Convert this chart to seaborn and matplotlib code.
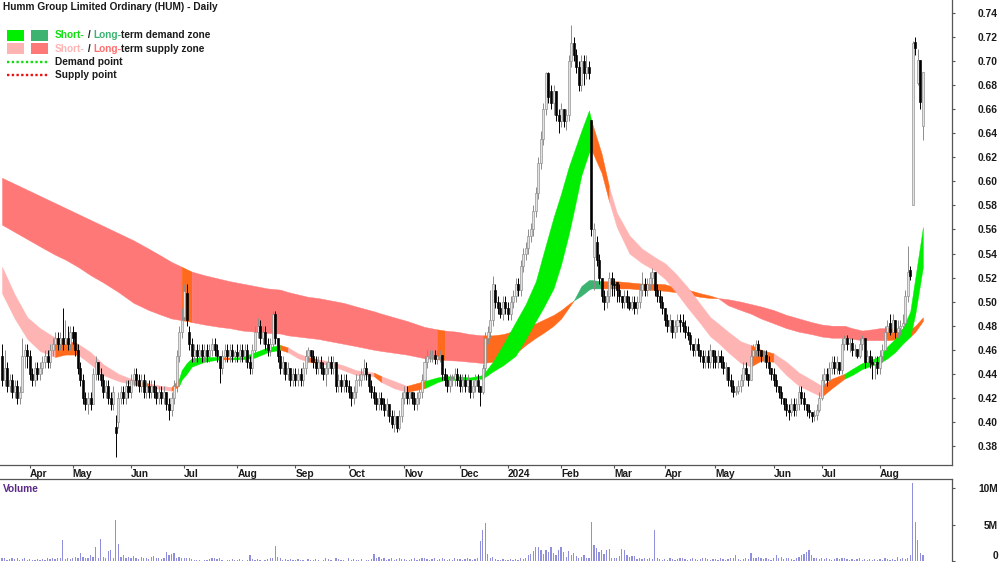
import numpy as np
import pandas as pd
import matplotlib
matplotlib.use("Agg")
import matplotlib.pyplot as plt
import matplotlib.transforms as mtrans
from matplotlib.patches import Rectangle
import seaborn as sns

# ---------------- data ----------------
title = "Humm Group Limited Ordinary (HUM) - Daily"
first_day = "2023-03-17"
last_day = "2024-08-26"
asx_holidays = ["2023-04-07", "2023-04-10", "2023-04-25", "2023-06-12", "2023-12-25",
                "2023-12-26", "2024-01-01", "2024-01-26", "2024-03-29", "2024-04-01",
                "2024-04-25", "2024-06-10"]

# daily prices in cents (one line per month)
opens = [
    45.5,43.5,44.5,43.0,43.5,42.5,43.0,42.0,42.5,45.5,46.0,
    45.5,44.0,43.5,44.5,44.0,44.5,45.0,45.5,45.0,46.0,46.5,47.0,46.5,47.0,46.5,47.0,46.5,
    47.5,47.5,46.0,44.5,43.5,42.0,41.5,42.0,41.5,44.0,45.0,44.0,43.5,42.5,43.0,42.0,41.5,39.6,40.0,42.0,42.5,42.0,43.0,
    42.5,43.5,44.0,43.5,43.0,43.5,42.5,43.0,42.5,43.0,42.5,42.0,42.5,42.0,42.5,41.5,41.0,42.0,43.0,45.5,47.5,
    48.7,50.7,47.5,46.5,45.5,46.0,45.5,46.0,45.5,46.0,45.5,46.0,46.5,46.0,45.5,44.5,45.5,46.0,45.5,46.0,45.5,
    45.8,45.5,46.0,45.5,46.0,45.0,44.5,46.0,47.5,48.0,47.0,47.5,46.5,46.0,46.5,49.0,47.0,45.5,44.5,45.0,44.0,44.5,43.5,
    44.0,43.5,44.0,43.5,44.5,45.5,46.0,45.5,45.0,44.5,45.0,44.5,44.0,44.5,45.0,44.5,45.0,43.0,43.5,43.0,43.5,
    43.0,42.5,42.0,42.5,43.5,43.5,44.0,44.5,44.0,43.0,42.5,42.0,41.5,42.0,41.5,41.0,41.5,40.5,39.8,40.5,39.5,40.5,
    42.0,42.5,42.0,42.5,42.0,41.5,42.0,42.5,43.5,45.0,45.5,45.5,45.6,45.2,45.5,45.6,44.0,43.5,43.0,43.5,43.6,44.0,
    43.5,43.0,43.5,43.0,43.5,42.5,43.0,43.5,43.0,42.5,44.5,47.0,47.5,48.5,51.0,50.0,49.5,49.0,50.0,
    49.5,49.0,50.0,50.5,51.5,51.0,53.0,54.0,54.5,55.5,56.0,57.5,59.0,61.5,63.5,66.0,69.0,67.5,66.5,67.5,65.5,
    65.0,66.0,65.0,65.5,70.0,71.5,70.5,69.5,68.0,70.0,69.0,69.5,65.1,53.7,55.0,53.5,52.0,50.5,50.0,50.5,52.0,
    51.5,51.6,51.0,50.5,50.0,50.5,50.0,49.5,50.0,49.5,50.0,51.0,51.5,51.0,51.5,52.0,52.5,51.0,50.5,50.0,
    49.5,48.5,48.0,48.5,47.5,48.0,48.5,48.3,48.0,47.5,47.2,46.5,46.0,46.5,46.0,45.5,45.0,45.5,45.0,46.0,
    45.5,45.0,45.5,45.0,44.5,44.6,43.5,43.0,42.5,42.6,43.0,43.5,44.5,44.0,43.5,45.5,46.0,46.5,46.0,45.5,45.6,45.0,44.5,
    44.0,43.5,43.0,42.5,42.0,41.5,41.0,40.8,41.5,41.0,41.5,42.5,42.0,41.5,41.0,40.8,40.5,40.6,41.0,
    42.0,43.5,44.0,43.5,44.5,45.0,44.5,45.0,44.3,46.5,47.0,46.5,46.6,46.0,46.1,45.5,46.5,47.0,45.0,45.5,45.0,44.8,45.0,
    44.5,45.5,46.0,47.5,48.2,47.5,48.5,47.5,47.8,48.0,48.2,50.5,52.6,58.0,71.6,68.2,70.1,64.6,
]
highs = [
    46.5,46.0,45.0,44.0,44.0,43.5,43.5,43.0,47.0,46.5,46.5,
    46.0,44.5,45.0,45.0,45.0,45.5,46.0,46.0,46.5,47.0,47.5,47.5,47.5,49.5,48.5,48.0,48.0,
    48.0,47.5,46.5,45.0,44.0,42.5,42.5,42.5,44.5,45.5,45.0,44.5,44.0,43.5,43.5,42.5,43.0,40.6,42.5,43.0,43.0,43.5,43.5,
    44.0,44.5,44.5,44.0,44.0,44.0,43.5,43.5,43.5,43.5,43.0,43.0,43.0,43.0,42.5,42.0,42.5,43.5,46.0,48.0,49.5,
    51.5,51.5,48.0,47.0,46.5,46.5,46.5,46.5,46.5,46.5,46.5,47.0,47.0,46.5,45.5,46.0,46.5,46.5,46.5,46.5,46.0,
    46.5,46.5,46.5,46.5,46.5,45.5,46.5,48.0,48.6,48.5,48.0,48.0,47.0,47.0,49.2,49.2,47.0,46.0,45.5,45.0,45.0,44.5,44.5,
    44.5,44.5,44.5,45.0,46.0,46.2,46.0,46.0,45.5,45.5,45.5,45.0,45.0,45.5,45.5,45.5,45.0,44.0,44.0,44.0,44.0,
    43.5,43.0,43.0,44.0,44.0,44.5,45.2,45.0,44.0,43.5,43.0,42.5,42.5,42.5,42.0,42.0,41.5,41.0,41.0,40.5,41.0,42.5,
    43.0,43.0,43.0,42.5,42.5,42.5,43.0,44.0,45.5,46.1,46.0,46.0,46.0,46.0,46.0,45.6,44.5,44.0,44.0,44.0,44.5,44.5,
    44.0,44.0,44.0,44.0,43.5,43.5,44.0,44.0,43.0,44.8,47.5,48.0,51.0,52.1,51.5,50.5,50.0,50.5,50.5,
    50.0,50.5,51.0,52.0,52.0,53.5,54.5,55.0,56.0,56.5,58.0,59.5,62.0,64.2,66.5,69.1,69.1,68.0,68.0,67.5,66.0,
    66.5,66.0,66.0,70.5,73.0,72.0,71.0,70.0,70.5,70.5,70.5,70.0,65.1,56.5,55.5,54.0,52.0,51.0,51.0,52.5,52.5,
    52.0,51.6,51.5,50.5,51.0,51.0,50.5,50.5,50.5,50.5,51.5,52.5,52.0,52.0,52.5,52.8,52.5,51.5,51.0,50.5,
    49.5,49.0,49.0,48.5,48.5,49.0,49.0,49.0,48.5,48.0,47.5,46.5,47.0,47.0,46.0,46.0,46.0,46.0,46.5,46.0,
    46.0,46.0,46.0,45.5,45.0,44.6,44.0,43.5,43.0,43.5,44.0,45.0,45.0,44.0,46.0,46.5,46.8,46.8,46.0,46.0,46.0,45.5,44.5,
    44.5,44.0,43.0,43.0,42.0,42.0,41.5,42.0,42.0,42.0,43.0,43.0,42.5,41.5,41.5,40.8,41.0,41.5,42.5,
    44.0,44.5,44.5,45.0,45.5,45.5,45.5,45.0,47.0,47.2,47.2,47.0,47.0,46.5,46.1,47.0,47.2,47.0,46.0,46.0,45.5,45.5,45.5,
    46.0,46.5,48.0,48.5,49.0,49.0,48.5,48.5,48.5,49.0,51.0,54.6,53.0,71.7,72.0,71.0,70.1,69.1,
]
lows = [
    43.0,43.0,42.5,42.5,42.0,42.0,41.5,41.5,42.5,44.5,44.5,
    43.5,43.0,43.0,43.5,43.5,44.0,44.5,44.5,44.5,45.5,46.0,46.0,46.0,46.0,46.0,46.0,46.0,
    46.5,45.5,44.0,43.0,41.5,41.0,40.7,41.0,41.5,43.5,43.5,43.0,42.0,42.0,41.5,41.0,41.0,37.1,39.5,41.5,41.5,41.5,42.0,
    42.0,43.0,43.0,42.5,42.5,42.0,42.0,42.0,42.0,42.0,41.5,41.5,41.5,41.5,41.0,40.2,40.5,41.5,42.5,45.0,47.0,
    48.5,48.0,46.0,45.0,45.0,45.0,45.0,45.0,45.0,45.0,45.0,45.5,45.5,45.0,43.2,44.0,45.0,45.0,45.0,45.0,45.0,
    45.0,45.0,45.0,45.0,44.5,44.0,44.0,45.5,47.0,46.5,46.5,46.0,45.5,45.5,46.0,46.5,45.0,44.0,44.0,43.5,43.5,43.0,43.0,
    43.0,43.0,43.0,43.0,44.0,45.0,45.0,44.5,44.0,44.0,44.0,43.5,43.0,44.0,44.0,44.0,42.5,42.5,42.5,42.5,42.5,
    42.0,41.3,41.5,42.0,43.0,43.0,43.5,43.5,42.5,42.0,41.5,41.0,41.0,41.0,40.5,40.5,40.0,39.5,39.2,39.2,39.3,40.0,
    41.5,41.5,41.5,41.5,41.0,41.0,41.5,42.0,43.0,44.5,45.0,45.0,44.8,44.8,45.0,43.5,43.0,42.5,42.5,43.0,43.0,43.0,
    42.5,42.5,42.5,42.5,42.0,42.0,42.5,42.5,41.3,42.3,44.0,46.5,47.0,48.0,49.5,49.0,48.6,48.5,49.0,
    48.5,48.5,49.5,50.0,50.5,50.5,52.5,53.5,54.0,55.0,55.5,57.0,58.5,61.0,63.0,65.5,66.5,66.0,65.5,65.0,64.0,
    64.5,64.5,64.3,65.0,69.5,70.0,69.0,67.5,67.5,68.0,68.5,68.5,55.5,51.0,53.0,51.5,50.0,49.3,49.5,50.0,50.5,
    50.5,50.0,50.0,49.5,49.5,49.5,49.3,49.3,49.0,49.0,49.5,50.5,50.5,50.5,51.0,51.5,50.5,50.0,49.5,49.0,
    48.0,47.5,47.5,47.0,47.0,47.5,47.5,47.5,47.0,46.8,46.0,45.5,45.5,45.5,45.0,44.5,44.5,44.5,44.5,44.5,
    44.5,44.5,44.5,44.0,43.5,43.0,42.5,42.1,42.2,42.3,42.5,43.0,43.5,43.0,43.5,45.0,45.5,45.5,45.0,45.0,44.5,44.0,43.5,
    43.0,42.5,42.0,41.5,41.0,40.5,40.2,40.5,40.5,40.5,41.0,41.5,41.0,40.5,40.3,40.0,40.1,40.2,40.8,
    41.8,43.0,43.0,43.0,44.0,44.0,44.0,44.0,44.0,46.0,46.0,45.8,45.5,45.5,45.3,45.3,46.0,44.5,44.8,44.5,43.6,43.6,44.0,
    44.0,45.0,45.5,47.0,47.2,47.0,47.0,47.0,47.2,47.5,48.0,50.0,51.8,58.0,70.5,68.0,66.0,63.4,
]
closes = [
    43.5,44.5,43.0,43.5,42.5,43.0,42.0,42.5,45.5,46.0,45.5,
    44.0,43.5,44.5,44.0,44.5,45.0,45.5,45.0,46.0,46.5,47.0,46.5,47.0,46.5,47.0,46.5,47.5,
    47.0,46.0,44.5,43.5,42.0,41.5,42.0,41.5,44.0,45.0,44.0,43.5,42.5,43.0,42.0,41.5,42.5,39.1,42.0,42.5,42.0,43.0,42.5,
    43.5,44.0,43.5,43.0,43.5,42.5,43.0,42.5,43.0,42.5,42.0,42.5,42.0,42.5,41.5,41.0,42.0,43.0,45.5,47.5,48.5,
    50.9,48.5,46.5,45.5,46.0,45.5,46.0,45.5,46.0,45.5,46.0,46.5,46.0,45.5,44.5,45.5,46.0,45.5,46.0,45.5,45.8,
    45.5,46.0,45.5,46.0,45.0,44.5,46.0,47.5,48.0,47.0,47.5,46.5,46.0,46.5,49.0,47.0,45.5,44.5,45.0,44.0,44.5,43.5,44.0,
    43.5,44.0,43.5,44.5,45.5,46.0,45.5,45.0,44.5,45.0,44.5,44.0,44.5,45.0,44.5,45.0,43.0,43.5,43.0,43.5,43.0,
    42.5,42.0,42.5,43.5,43.6,44.0,44.5,44.0,43.0,42.5,42.0,41.5,42.0,41.5,41.0,41.5,40.5,39.8,40.5,39.5,40.5,42.0,
    42.5,42.0,42.5,42.0,41.5,42.0,42.5,43.5,45.0,45.5,45.6,45.6,45.2,45.5,45.6,44.0,43.5,43.0,43.5,43.6,44.0,43.5,
    43.0,43.5,43.0,43.5,42.5,43.0,43.5,43.0,42.5,44.5,47.0,47.5,48.5,51.5,50.0,49.5,49.0,50.0,49.5,
    49.0,50.0,50.5,51.5,51.0,53.0,54.0,54.5,55.5,56.0,57.5,59.0,61.5,63.5,66.0,69.0,67.0,66.5,67.5,65.5,65.0,
    66.0,65.0,65.5,70.0,71.5,70.5,69.5,68.0,70.0,69.0,69.5,69.0,56.0,56.0,53.5,52.0,50.5,50.0,50.5,52.0,51.5,
    51.4,51.0,50.5,50.0,50.5,50.0,49.5,50.0,49.5,50.0,51.0,51.5,51.0,51.5,52.0,52.5,51.0,50.5,50.0,49.5,
    48.5,48.0,48.5,47.5,48.0,48.5,48.3,48.0,47.5,47.2,46.5,46.0,46.5,46.0,45.5,45.0,45.5,45.0,46.0,45.5,
    45.0,45.5,45.0,44.5,44.6,43.5,43.0,42.5,42.6,43.0,43.5,44.5,44.0,43.5,45.5,46.0,46.5,46.0,45.5,45.6,45.0,44.5,44.0,
    43.5,43.0,42.5,42.0,41.5,41.0,40.8,41.5,41.0,41.5,42.5,42.0,41.5,41.0,40.8,40.5,40.6,41.0,42.0,
    43.5,44.0,43.5,44.5,45.0,44.5,45.0,44.3,46.5,47.0,46.5,46.6,46.0,46.1,45.5,46.5,47.0,45.0,45.5,45.0,44.8,45.0,44.5,
    45.5,46.0,47.5,48.0,47.5,48.5,47.5,47.8,48.0,48.2,50.5,52.5,52.1,71.5,71.1,70.1,66.6,69.1,
]
# daily volume in millions of shares
volume_m = [
    0.5,0.4,0.2,0.3,0.5,0.3,0.4,0.2,0.3,0.4,0.2,
    0.3,0.2,0.2,0.3,0.2,0.3,0.2,0.4,0.3,0.4,0.3,0.5,0.4,2.9,0.3,0.4,0.3,
    0.4,0.6,0.5,1.1,0.6,0.4,0.5,0.9,0.6,1.9,0.5,3.0,0.6,0.4,1.4,1.5,0.5,5.6,2.3,0.6,0.8,0.5,0.6,
    0.4,0.7,0.5,0.3,0.6,0.4,0.5,0.3,0.6,0.7,0.5,0.4,0.3,0.5,1.3,0.9,1.0,1.1,0.5,0.6,0.4,
    0.5,0.5,0.4,0.3,0.2,0.2,0.2,0.1,0.2,0.2,0.3,0.5,0.4,0.3,0.5,0.2,0.1,0.2,0.2,0.3,0.2,
    0.2,0.3,0.2,0.1,0.2,0.8,0.3,0.2,0.3,0.2,0.1,0.2,0.3,0.4,0.5,2.1,0.6,0.4,0.2,0.3,0.2,0.3,0.2,
    0.2,0.3,0.2,0.2,0.1,0.3,0.2,0.2,0.3,0.2,0.1,0.2,0.4,0.3,0.2,0.1,0.5,0.3,0.2,0.2,0.1,
    0.5,0.2,0.3,0.2,0.2,0.3,0.1,0.2,0.2,0.3,0.95,0.5,0.6,0.3,0.4,0.2,0.3,0.4,0.2,0.3,0.5,0.3,
    0.3,0.2,0.2,0.3,0.4,0.2,0.3,0.5,0.4,0.3,0.2,0.3,0.4,0.2,0.3,0.5,0.3,0.2,0.3,0.2,0.4,0.3,
    0.3,0.2,0.3,0.4,0.3,0.2,0.3,0.5,2.8,4.3,5.2,1.0,0.4,0.6,0.3,0.2,0.2,0.3,0.2,
    0.2,0.3,0.2,0.3,0.2,0.4,0.3,0.5,0.8,1.0,1.4,1.9,2.0,1.5,1.0,1.6,1.3,2.0,1.1,0.8,1.5,
    1.9,1.2,0.6,1.4,0.9,1.1,0.7,0.5,0.6,0.8,0.4,0.5,5.3,2.2,1.8,1.2,1.6,1.0,1.6,1.7,0.5,
    0.4,0.5,0.7,1.7,1.5,0.8,0.6,0.7,0.7,0.3,0.4,0.3,0.4,0.3,0.5,0.3,4.2,0.4,0.3,0.2,
    0.3,0.2,0.4,0.3,0.2,0.3,0.4,0.5,0.3,0.2,0.3,0.4,0.3,0.2,0.3,0.5,0.4,0.3,0.2,0.3,
    0.3,0.2,0.4,0.3,0.2,0.3,0.5,0.4,0.9,0.3,0.2,0.3,0.4,0.3,1.1,0.5,0.4,0.6,0.4,0.3,0.5,0.3,0.2,
    0.5,0.9,0.4,0.6,0.3,0.4,0.5,0.3,0.2,0.4,0.6,0.8,1.0,1.2,1.5,0.8,0.5,0.4,0.3,
    0.4,0.3,0.5,0.3,0.2,0.3,0.4,0.3,0.5,0.4,0.3,0.2,0.3,0.2,0.3,0.4,0.2,0.3,0.2,0.3,0.2,0.3,0.2,
    0.3,0.2,0.4,0.3,0.2,0.3,0.2,0.6,0.3,0.4,0.3,0.5,0.8,10.7,5.3,2.9,1.1,0.9,
]

# zone bands (cents), read at these sessions
band_dates = [
    "2023-03-17","2023-03-24","2023-03-31","2023-04-11","2023-04-19","2023-04-26","2023-05-03",
    "2023-05-10","2023-05-17","2023-05-25","2023-06-02","2023-06-13","2023-06-20","2023-06-26",
    "2023-06-29","2023-06-30","2023-07-04","2023-07-06","2023-07-13","2023-07-21","2023-07-27",
    "2023-08-03","2023-08-10","2023-08-17","2023-08-24","2023-08-29","2023-09-04","2023-09-08",
    "2023-09-14","2023-09-21","2023-09-28","2023-10-05","2023-10-16","2023-10-19","2023-10-26",
    "2023-11-02","2023-11-13","2023-11-20","2023-11-23","2023-11-30","2023-12-07","2023-12-14",
    "2023-12-20","2023-12-28","2024-01-05","2024-01-11","2024-01-17","2024-01-22","2024-01-29",
    "2024-02-01","2024-02-06","2024-02-08","2024-02-13","2024-02-16","2024-02-19","2024-02-23",
    "2024-02-28","2024-03-04","2024-03-11","2024-03-18","2024-03-25","2024-04-02","2024-04-08",
    "2024-04-15","2024-04-22","2024-04-29","2024-05-02","2024-05-08","2024-05-15","2024-05-21",
    "2024-05-27","2024-06-03","2024-06-11","2024-06-18","2024-06-25","2024-07-01","2024-07-05",
    "2024-07-12","2024-07-17","2024-07-23","2024-07-29","2024-08-01","2024-08-06","2024-08-09",
    "2024-08-14","2024-08-19","2024-08-21","2024-08-26",
]
long_upper = [
    60.3,59.8,59.3,58.8,58.2,57.8,57.3,56.8,56.3,55.7,55.1,54.4,53.8,53.3,53.0,52.9,52.7,52.5,
    52.2,51.9,51.7,51.5,51.3,51.1,51.0,50.8,50.6,50.4,50.3,50.1,49.9,49.6,49.2,49.0,48.7,48.4,
    47.9,47.7,47.6,47.5,47.3,47.2,47.2,47.3,47.6,47.9,48.2,48.5,48.9,49.3,49.8,50.1,51.3,51.8,
    51.8,51.7,51.7,51.7,51.6,51.5,51.5,51.45,51.2,51.0,50.7,50.5,50.3,50.2,50.0,49.8,49.6,49.3,
    48.9,48.6,48.3,48.1,48.0,48.0,47.8,47.6,47.7,47.8,47.8,47.75,47.7,47.7,48.0,48.7,
]
long_lower = [
    56.4,55.8,55.2,54.6,53.9,53.5,52.9,52.2,51.6,50.8,49.9,49.3,48.9,48.6,48.5,48.45,48.4,48.3,
    48.1,47.9,47.8,47.6,47.5,47.4,47.35,47.2,47.1,47.0,46.9,46.7,46.5,46.3,46.0,45.9,45.75,45.6,
    45.3,45.2,45.15,45.1,45.0,44.9,45.0,45.1,45.7,46.4,47.0,47.4,48.0,48.6,49.5,50.1,50.5,51.0,
    51.1,51.1,51.1,51.1,51.1,51.0,50.97,50.9,50.8,50.6,50.4,50.3,50.3,49.7,49.3,49.0,48.6,48.2,
    47.8,47.5,47.3,47.1,47.0,47.0,46.9,46.8,46.8,46.8,46.8,46.85,46.9,47.1,47.5,48.4,
]
short_upper = [
    52.9,50.6,48.7,47.8,47.0,46.8,46.5,45.8,44.8,44.0,43.5,43.2,43.0,42.9,43.6,44.3,44.9,45.3,
    45.4,45.4,45.35,45.4,45.8,46.2,46.4,46.2,45.7,45.4,45.2,45.0,44.7,44.3,44.1,43.8,43.4,43.0,
    43.4,43.7,43.8,43.8,43.7,43.9,45.0,46.4,48.3,49.8,51.7,54.0,57.0,59.0,61.2,62.4,64.2,65.9,
    65.0,62.3,59.5,57.4,55.5,54.4,53.7,53.2,52.4,51.2,49.8,48.7,48.2,47.5,46.7,46.4,46.0,45.7,
    45.0,44.1,43.5,43.0,43.6,44.0,44.4,44.9,45.2,45.5,46.3,46.9,47.8,49.2,52.0,56.2,
]
short_lower = [
    50.7,48.6,46.9,45.9,45.4,45.6,45.6,44.8,43.9,43.4,43.1,42.9,42.7,42.6,43.0,43.5,44.0,44.6,
    45.0,45.2,45.2,45.2,45.35,45.8,46.0,45.8,45.3,45.0,44.9,44.7,44.3,43.9,43.8,43.3,42.8,42.5,
    42.8,43.3,43.5,43.5,43.5,43.6,44.2,44.7,45.5,46.9,48.4,49.5,51.1,53.1,55.6,57.5,60.5,62.4,
    62.6,60.7,58.3,56.2,54.0,53.2,52.6,51.9,50.9,49.5,48.2,47.1,46.6,45.8,44.9,44.6,45.1,45.0,
    43.9,43.0,42.5,42.1,42.8,43.6,43.9,44.4,44.7,44.9,45.3,45.8,46.5,47.1,49.0,52.9,
]
# zone state runs (state applies from the date until the next listed date)
long_zone_dates = ["2023-03-17","2023-06-30","2023-07-06","2023-11-20","2023-11-23","2023-12-14",
                   "2024-02-08","2024-02-23","2024-05-02","2024-08-06"]
long_zone_state = ["supply","mixed","supply","mixed","supply","mixed",
                   "demand","mixed","supply","mixed"]
short_zone_dates = ["2023-03-17","2023-04-19","2023-05-03","2023-06-02","2023-06-13","2023-06-26",
                    "2023-06-29","2023-07-21","2023-07-27","2023-08-24","2023-08-29","2023-09-08",
                    "2023-09-14","2023-10-16","2023-10-19","2023-11-02","2023-11-13","2024-02-19",
                    "2024-02-28","2024-05-21","2024-06-03","2024-07-01","2024-07-12"]
short_zone_state = ["supply","mixed","supply","mixed","supply","mixed",
                    "demand","mixed","demand","mixed","supply","mixed",
                    "supply","mixed","supply","mixed","demand","mixed",
                    "supply","mixed","supply","mixed","demand"]

price_ticks = [0.38,0.40,0.42,0.44,0.46,0.48,0.50,0.52,0.54,0.56,0.58,0.60,0.62,0.64,0.66,0.68,0.70,0.72,0.74]
volume_ticks = [0, 5, 10]
volume_tick_labels = ["0", "5M", "10M"]

# ---------------- style ----------------
sns.set_theme(style="white")
plt.rcParams["font.family"] = ["Liberation Sans", "DejaVu Sans"]

C_LONG_SUP = "#FF7878"
C_SHORT_SUP = "#FFB4B4"
C_LONG_DEM = "#3CB371"
C_SHORT_DEM = "#00EE00"
C_MIXED = "#FF6A1C"
SPINE = "#555555"
TXT = "#1a1a1a"

days = pd.bdate_range(first_day, last_day)
days = days[~days.isin(pd.to_datetime(asx_holidays))]
n = len(days)
assert n == len(opens) == len(highs) == len(lows) == len(closes) == len(volume_m), \
    (n, len(opens), len(highs), len(lows), len(closes), len(volume_m))
assert len(band_dates) == len(long_upper) == len(long_lower) == len(short_upper) == len(short_lower), \
    (len(band_dates), len(long_upper), len(long_lower), len(short_upper), len(short_lower))
session = {d.strftime("%Y-%m-%d"): i for i, d in enumerate(days)}
t = np.arange(n)
o = np.array(opens) / 100
h = np.array(highs) / 100
l = np.array(lows) / 100
c = np.array(closes) / 100

fig = plt.figure(figsize=(10, 5.62), dpi=100)
fig.patch.set_facecolor("white")
W, H = 1000.0, 562.0
XL = (-0.79, 375.5)

ax = fig.add_axes([0, 1 - 465 / H, 952 / W, 465 / H])
vax = fig.add_axes([0, 0, 952 / W, (H - 479) / H])

# ---- zone bands ----
bx = np.array([session[d] for d in band_dates], dtype=float)
bidx = {d: k for k, d in enumerate(band_dates)}


def draw_band(upper, lower, zdates, zstates, colors, z):
    up = np.array(upper) / 100
    lo = np.array(lower) / 100
    for r, (d, st) in enumerate(zip(zdates, zstates)):
        a = bidx[d]
        b = bidx[zdates[r + 1]] if r + 1 < len(zdates) else len(band_dates) - 1
        ax.fill_between(bx[a:b + 1], lo[a:b + 1], up[a:b + 1], facecolor=colors[st],
                        edgecolor=colors[st], linewidth=0.3, zorder=z)


draw_band(long_upper, long_lower, long_zone_dates, long_zone_state,
          {"supply": C_LONG_SUP, "demand": C_LONG_DEM, "mixed": C_MIXED}, 1)
draw_band(short_upper, short_lower, short_zone_dates, short_zone_state,
          {"supply": C_SHORT_SUP, "demand": C_SHORT_DEM, "mixed": C_MIXED}, 2)

# ---- candles ----
rise = c >= o
body_lo = np.minimum(o, c)
body_h = np.maximum(np.abs(c - o), 0.0008)
ax.vlines(t[rise], l[rise], h[rise], color="#8c8c8c", lw=0.7, zorder=3)
ax.vlines(t[~rise], l[~rise], h[~rise], color="#000000", lw=0.7, zorder=3)
ax.bar(t[rise], body_h[rise], bottom=body_lo[rise], width=0.8, color="#e2e2e2",
       edgecolor="#8a8a8a", linewidth=0.45, zorder=4)
ax.bar(t[~rise], body_h[~rise], bottom=body_lo[~rise], width=0.8, color="#000000",
       edgecolor="#000000", linewidth=0.45, zorder=4)

ax.set_xlim(*XL)
ax.set_ylim(0.3642, 0.7508)

# month ticks
mpos, mlab = [], []
prev = None
for i, d in enumerate(days):
    key = (d.year, d.month)
    if key != prev:
        if i > 0:
            mpos.append(i)
            mlab.append(str(d.year) if d.month == 1 else d.strftime("%b"))
        prev = key
ax.set_xticks(mpos)
ax.set_xticklabels(mlab, fontsize=7.3, fontweight="bold", color=TXT, ha="left")
shift = mtrans.ScaledTranslation(1.5 / 100, 0, fig.dpi_scale_trans)
for lbl in ax.get_xticklabels():
    lbl.set_transform(lbl.get_transform() + shift)
ax.tick_params(axis="x", bottom=True, direction="out", length=2.5, width=0.8,
               color=SPINE, pad=0.5)

ax.yaxis.tick_right()
ax.set_yticks(price_ticks)
ax.set_yticklabels([f"{v:.2f}" for v in price_ticks], fontsize=7.4, fontweight="bold", color=TXT)
ax.tick_params(axis="y", right=True, left=False, labelright=True, labelleft=False,
               direction="out", length=2.5, width=0.8, color=SPINE, pad=30.5)
for lbl in ax.get_yticklabels():
    lbl.set_horizontalalignment("right")
for s in ["left", "top"]:
    ax.spines[s].set_visible(False)
for s in ["right", "bottom"]:
    ax.spines[s].set_color(SPINE)
    ax.spines[s].set_linewidth(0.9)
ax.set_facecolor("white")
ax.grid(False)

# ---- volume ----
vdf = pd.DataFrame({"session": t, "volume": np.array(volume_m)})
sns.barplot(data=vdf, x="session", y="volume", native_scale=True, color="#8f8fdc",
            saturation=1, width=0.5, errorbar=None, linewidth=0, ax=vax)
vax.set_xlim(*XL)
vax.set_ylim(-0.1, 11.2)
vax.set_xlabel("")
vax.set_ylabel("")
vax.set_xticks([])
vax.yaxis.tick_right()
vax.set_yticks(volume_ticks)
vax.set_yticklabels(volume_tick_labels, fontsize=7.4, fontweight="bold", color=TXT)
vax.tick_params(axis="y", right=True, left=False, labelright=True, labelleft=False,
                direction="out", length=2.5, width=0.8, color=SPINE, pad=30.5)
for lbl in vax.get_yticklabels():
    lbl.set_horizontalalignment("right")
    if lbl.get_text() == "0":
        lbl.set_verticalalignment("bottom")
for s in ["left", "bottom"]:
    vax.spines[s].set_visible(False)
for s in ["right", "top"]:
    vax.spines[s].set_color(SPINE)
    vax.spines[s].set_linewidth(0.9)
vax.grid(False)

# ---- overlay: title + legend ----
lax = fig.add_axes([0, 0, 1, 1])
lax.set_xlim(0, W)
lax.set_ylim(H, 0)
lax.axis("off")
lax.patch.set_alpha(0)

fkw = dict(fontsize=7.3, fontweight="bold", va="center")
lax.text(3, 7, title, color=TXT, **fkw)
lax.text(3, 489, "Volume", color="#5b2a86", **fkw)

renderer = fig.canvas.get_renderer()


def text_width(s):
    tt = lax.text(0, 0, s, **fkw)
    w = tt.get_window_extent(renderer=renderer).width
    tt.remove()
    return w


def rich_text(x, y, parts):
    full = ""
    bar_w = text_width("|")
    for s, col in parts:
        dx = text_width(full + "|") - bar_w if full else 0.0
        lax.text(x + dx, y, s, color=col, **fkw)
        full += s


lax.add_patch(Rectangle((7, 30), 17, 11, color=C_SHORT_DEM, lw=0))
lax.add_patch(Rectangle((31, 30), 17, 11, color=C_LONG_DEM, lw=0))
rich_text(55, 35.5, [("Short-", "#11dd11"), (" / ", TXT), ("Long-", C_LONG_DEM),
                     ("term demand zone", TXT)])
lax.add_patch(Rectangle((7, 43), 17, 11, color=C_SHORT_SUP, lw=0))
lax.add_patch(Rectangle((31, 43), 17, 11, color=C_LONG_SUP, lw=0))
rich_text(55, 48.5, [("Short-", C_SHORT_SUP), (" / ", TXT), ("Long-", "#ff6f6f"),
                     ("term supply zone", TXT)])
lax.plot([7, 48], [62, 62], color="#11dd11", lw=1.7, ls=(0, (1, 1)))
lax.text(55, 62, "Demand point", color=TXT, **fkw)
lax.plot([7, 48], [75, 75], color="#ee1111", lw=1.7, ls=(0, (1, 1)))
lax.text(55, 75, "Supply point", color=TXT, **fkw)

fig.savefig("out.png", dpi=100, facecolor="white")
